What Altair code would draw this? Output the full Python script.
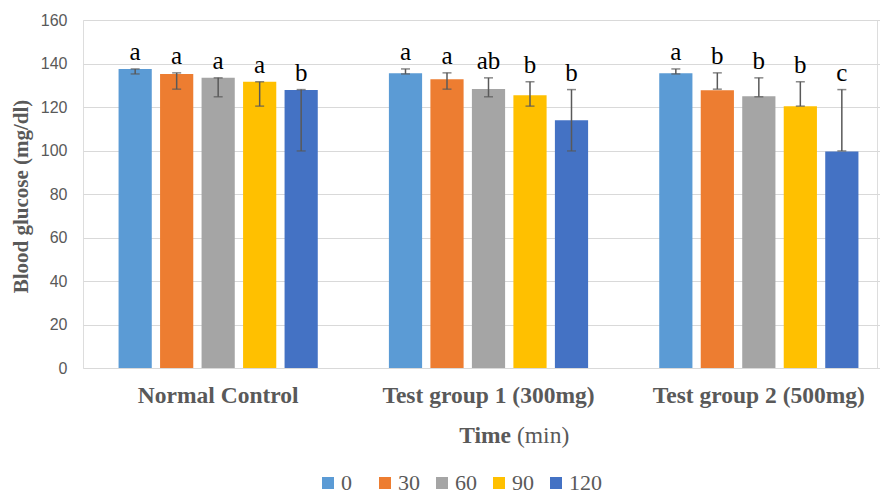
import altair as alt
import pandas as pd

groups = ["Normal Control", "Test group 1 (300mg)", "Test group 2 (500mg)"]
times = ["0", "30", "60", "90", "120"]
colors = ["#5B9BD5", "#ED7D31", "#A5A5A5", "#FFC000", "#4472C4"]

means_nc = [137.5, 135.2, 133.4, 131.6, 127.8]
means_t1 = [135.5, 132.8, 128.3, 125.4, 113.9]
means_t2 = [135.5, 127.7, 125.0, 120.4, 99.5]

err_low_nc = [135.2, 128.2, 124.7, 120.4, 99.8]
err_low_t1 = [135.2, 128.2, 124.7, 120.4, 99.8]
err_low_t2 = [135.2, 128.2, 124.7, 120.4, 99.8]
err_high_nc = [137.5, 135.7, 133.4, 131.6, 128.0]
err_high_t1 = [137.5, 135.7, 133.4, 131.6, 128.0]
err_high_t2 = [137.5, 135.7, 133.4, 131.6, 128.0]

letters_nc = ["a", "a", "a", "a", "b"]
letters_t1 = ["a", "a", "ab", "b", "b"]
letters_t2 = ["a", "b", "b", "b", "c"]

means = [means_nc, means_t1, means_t2]
lows = [err_low_nc, err_low_t1, err_low_t2]
highs = [err_high_nc, err_high_t1, err_high_t2]
letters = [letters_nc, letters_t1, letters_t2]

rows = []
for gi, g in enumerate(groups):
    for ti, t in enumerate(times):
        rows.append(dict(group=g, time=t, mean=means[gi][ti], lo=lows[gi][ti],
                         hi=highs[gi][ti], letter=letters[gi][ti],
                         top=max(means[gi][ti], highs[gi][ti])))
df = pd.DataFrame(rows)

GRAY = "#595959"
SERIF = "Liberation Serif"

x = alt.X("group:N", sort=groups,
          scale=alt.Scale(range=[0, 811], paddingInner=0, paddingOuter=0),
          axis=alt.Axis(title=None, domain=False, ticks=False, labelAngle=0, labelLimit=0,
                        labelFont=SERIF, labelFontWeight="bold", labelFontSize=23.5,
                        labelColor=GRAY, labelPadding=15))
xo = alt.XOffset("time:N", sort=times,
                 scale=alt.Scale(paddingInner=0.2, paddingOuter=0.857))
yscale = alt.Scale(domain=[0, 160], nice=False)

base = alt.Chart(df)

bars = base.mark_bar().encode(
    x=x, xOffset=xo,
    y=alt.Y("mean:Q", scale=yscale,
            axis=alt.Axis(values=list(range(0, 161, 20)), title="Blood glucose (mg/dl)",
                          domain=False, ticks=False, labelFont="Liberation Sans",
                          labelFontSize=16, labelColor=GRAY, labelPadding=16,
                          gridColor="#D9D9D9", gridWidth=1,
                          titleFont=SERIF, titleFontWeight="bold", titleFontSize=21,
                          titleColor=GRAY, titleX=-62, titleY=176, titleAngle=270,
                          titleAlign="center", titleBaseline="middle")),
    color=alt.Color("time:N", sort=times, scale=alt.Scale(domain=times, range=colors),
                    legend=alt.Legend(orient="none", direction="horizontal", columns=5,
                                      legendX=234, legendY=452, title=None,
                                      symbolType="square", symbolSize=144,
                                      symbolStrokeWidth=0, labelFont=SERIF,
                                      labelFontSize=22, labelColor=GRAY, labelLimit=0,
                                      gridAlign="all",
                                      columnPadding=0, labelOffset=2, padding=0)),
)

rule = base.mark_rule(color=GRAY, strokeWidth=1.5).encode(
    x=x, xOffset=xo, y=alt.Y("lo:Q", scale=yscale), y2="hi:Q")
cap_lo = base.mark_tick(color=GRAY, thickness=1.5, size=9).encode(
    x=x, xOffset=xo, y=alt.Y("lo:Q", scale=yscale))
cap_hi = base.mark_tick(color=GRAY, thickness=1.5, size=9).encode(
    x=x, xOffset=xo, y=alt.Y("hi:Q", scale=yscale))

text = base.mark_text(font=SERIF, fontSize=25, color="black", baseline="alphabetic",
                      dy=-9).encode(
    x=x, xOffset=xo, y=alt.Y("top:Q", scale=yscale), text="letter:N")

xt1 = alt.Chart(pd.DataFrame({"t": ["Time"]})).mark_text(
    font=SERIF, fontSize=23.5, fontWeight="bold", color=GRAY, align="right",
    baseline="alphabetic").encode(x=alt.value(428), y=alt.value(423), text="t:N")
xt2 = alt.Chart(pd.DataFrame({"t": ["(min)"]})).mark_text(
    font=SERIF, fontSize=23.5, fontWeight="normal", color=GRAY, align="left",
    baseline="alphabetic").encode(x=alt.value(434), y=alt.value(423), text="t:N")

chart = alt.layer(bars, rule, cap_lo, cap_hi, text, xt1, xt2).properties(
    width=794, height=348,
    autosize=alt.AutoSizeParams(type="none"),
    padding={"left": 83, "top": 20, "right": 3, "bottom": 126},
).configure_view(stroke=None).configure(background="white").configure_legend(
    labelFont=SERIF, labelFontSize=22, labelColor=GRAY)

chart.save("out.html", embed_options={"renderer": "svg", "actions": False})
